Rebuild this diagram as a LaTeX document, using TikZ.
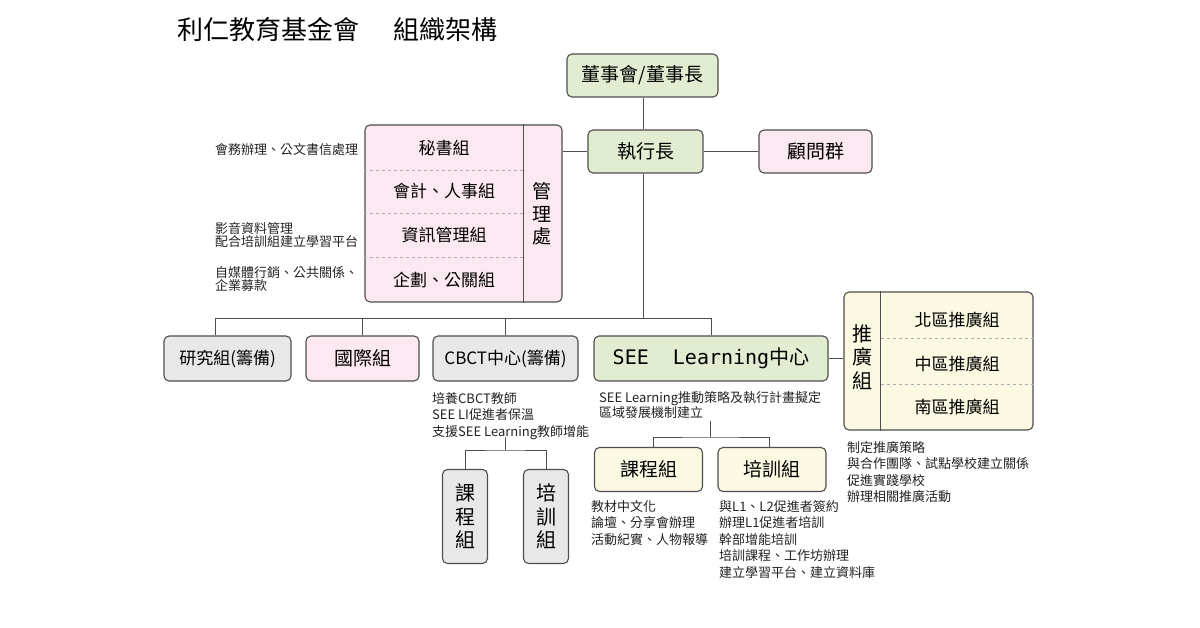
\documentclass[tikz,border=0pt]{standalone}
\usepackage{fontspec}
\usepackage{xcolor}
\setmainfont{Noto Sans CJK TC}
\newfontfamily\monofont{DejaVu Sans Mono}
\usetikzlibrary{positioning}
\definecolor{boardgreen}{RGB}{226,236,208}
\definecolor{officepink}{RGB}{251,232,240}
\definecolor{labgray}{RGB}{232,232,232}
\definecolor{areayellow}{RGB}{251,249,225}
\definecolor{edgegray}{RGB}{78,78,78}
\definecolor{notegray}{RGB}{34,34,34}

\tikzset{
  unitbox/.style={draw=edgegray, line width=1.1pt, rounded corners=5pt, inner sep=0pt,
    align=center, font=\fontsize{19}{22}\selectfont},
  greenbox/.style={unitbox, fill=boardgreen},
  pinkbox/.style={unitbox, fill=officepink},
  graybox/.style={unitbox, fill=labgray},
  yellowbox/.style={unitbox, fill=areayellow},
  rowtext/.style={inner sep=0pt, font=\fontsize{17}{20}\selectfont},
  tallword/.style={inner sep=0pt, align=center, font=\fontsize{20}{23.5}\selectfont},
  note/.style={inner sep=0pt, align=left, text=notegray, font=\fontsize{13}{16.5}\selectfont},
  tightnote/.style={note, font=\fontsize{13}{13}\selectfont},
  link/.style={draw=edgegray, line width=1pt},
  divider/.style={draw=edgegray, line width=1.1pt},
  sepline/.style={draw=edgegray!45, line width=0.8pt, dashed},
}

\begin{document}
\begin{tikzpicture}[x=1pt,y=-1pt]
  \useasboundingbox (0,0) rectangle (1200,628);
  % Title
  \node[inner sep=0pt, anchor=west, font=\fontsize{26}{30}\selectfont] (title) at (177,30)
    {利仁教育基金會\hspace{1.3em}組織架構};
  % Top of the chart
  \node[greenbox, minimum width=151pt, minimum height=43pt] (board) at (642.5,75.5) {董事會/董事長};
  \node[greenbox, minimum width=115pt, minimum height=43pt] (ceo) at (645.5,151.5) {執行長};
  \node[pinkbox, minimum width=113pt, minimum height=43pt] (advisor) at (815.5,151.5) {顧問群};
  % Management office
  \node[pinkbox, minimum width=197pt, minimum height=177pt] (office) at (463.5,213.5) {};
  \draw[divider] ([xshift=-39pt]office.north east) -- ([xshift=-39pt]office.south east);
  \foreach \y in {170,213,257}
    \draw[sepline] (office.west |- 0,\y) -- (523,\y);
  \node[rowtext] (secretary) at (444,148) {秘書組};
  \node[rowtext] (account) at (444,191) {會計、人事組};
  \node[rowtext] (infosys) at (444,235) {資訊管理組};
  \node[rowtext] (planning) at (444,280) {企劃、公關組};
  \node[tallword, font=\fontsize{19}{22.5}\selectfont] (officename) at (542,214) {管\\理\\處};
  % Notes left of the office
  \node[note, anchor=west] (secnote) at (215,150) {會務辦理、公文書信處理};
  \node[tightnote, anchor=west] (infonote) at (215,235) {影音資料管理\\配合培訓組建立學習平台};
  \node[tightnote, anchor=west] (plannote) at (215,279) {自媒體行銷、公共關係、\\企業募款};
  % Second row
  \node[graybox, minimum width=127pt, minimum height=45pt, font=\fontsize{17}{20}\selectfont] (research) at (227.5,358.5) {研究組(籌備)};
  \node[pinkbox, minimum width=113pt, minimum height=45pt] (intl) at (362.5,358.5) {國際組};
  \node[graybox, minimum width=145pt, minimum height=45pt, font=\fontsize{17}{20}\selectfont] (cbct) at (505.5,358.5) {CBCT中心(籌備)};
  \node[greenbox, minimum width=234pt, minimum height=45pt, font=\fontsize{20}{23}\selectfont] (see) at (711,358.5)
    {{\monofont SEE\ \ Learning}中心};
  % Promotion groups
  \node[yellowbox, minimum width=189pt, minimum height=138pt] (promo) at (938.5,361) {};
  \draw[divider] ([xshift=37pt]promo.north west) -- ([xshift=37pt]promo.south west);
  \foreach \y in {338,384}
    \draw[sepline] (881,\y) -- (promo.east |- 0,\y);
  \node[rowtext] (north) at (957,320) {北區推廣組};
  \node[rowtext] (middle) at (957,364) {中區推廣組};
  \node[rowtext] (south) at (957,407) {南區推廣組};
  \node[tallword] (promoname) at (862,357) {推\\廣\\組};
  \node[note, anchor=north west] (promonote) at (847,441)
    {制定推廣策略\\與合作團隊、試點學校建立關係\\促進實踐學校\\辦理相關推廣活動};
  % CBCT groups
  \node[note, anchor=north west] (cbctnote) at (432,392)
    {培養CBCT教師\\SEE LI促進者保溫\\支援SEE Learning教師增能};
  \node[graybox, minimum width=45pt, minimum height=94pt, font=\fontsize{20}{23.5}\selectfont] (cbctcourse) at (465,516.5) {課\\程\\組};
  \node[graybox, minimum width=45pt, minimum height=94pt, font=\fontsize{20}{23.5}\selectfont] (cbcttrain) at (546,516.5) {培\\訓\\組};
  % SEE Learning groups
  \node[note, anchor=north west, font=\fontsize{13}{15.5}\selectfont] (seenote) at (599,391)
    {SEE Learning推動策略及執行計畫擬定\\區域發展機制建立};
  \node[yellowbox, minimum width=108pt, minimum height=44pt] (course) at (648.5,469.5) {課程組};
  \node[yellowbox, minimum width=108pt, minimum height=44pt] (train) at (772,469.5) {培訓組};
  \node[note, anchor=north west] (coursenote) at (591,500)
    {教材中文化\\論壇、分享會辦理\\活動紀實、人物報導};
  \node[note, anchor=north west] (trainnote) at (719,500)
    {與L1、L2促進者簽約\\辦理L1促進者培訓\\幹部增能培訓\\培訓課程、工作坊辦理\\建立學習平台、建立資料庫};
  % Connectors
  \coordinate (bus) at (0,319);
  \coordinate (cbctfork) at (505,450);
  \coordinate (seefork) at (710,437);
  \draw[link] (board.south -| 643,0) -- (ceo.north -| 643,0);
  \draw[link] (ceo.east) -- (advisor.west);
  \draw[link] (ceo.west) -- (ceo.west -| office.east);
  \draw[link] (ceo.south -| 643,0) -- (bus -| 643,0);
  \draw[link] ([xshift=-12.5pt]research.north) |- (see.north |- bus) -- (see.north);
  \draw[link] (intl.north) -- (intl.north |- bus);
  \draw[link] (cbct.north) -- (cbct.north |- bus);
  \draw[link] (see.east) -- (see.east -| promo.west);
  \draw[link] (cbctfork |- 0,437) -- (cbctfork);
  \draw[link] (cbctcourse.north) |- (cbctfork) -| (cbcttrain.north);
  \draw[link] (seefork |- 0,421) -- (seefork);
  \draw[link] ([xshift=4.5pt]course.north) |- (seefork) -| ([xshift=-3pt]train.north);
\end{tikzpicture}
\end{document}
